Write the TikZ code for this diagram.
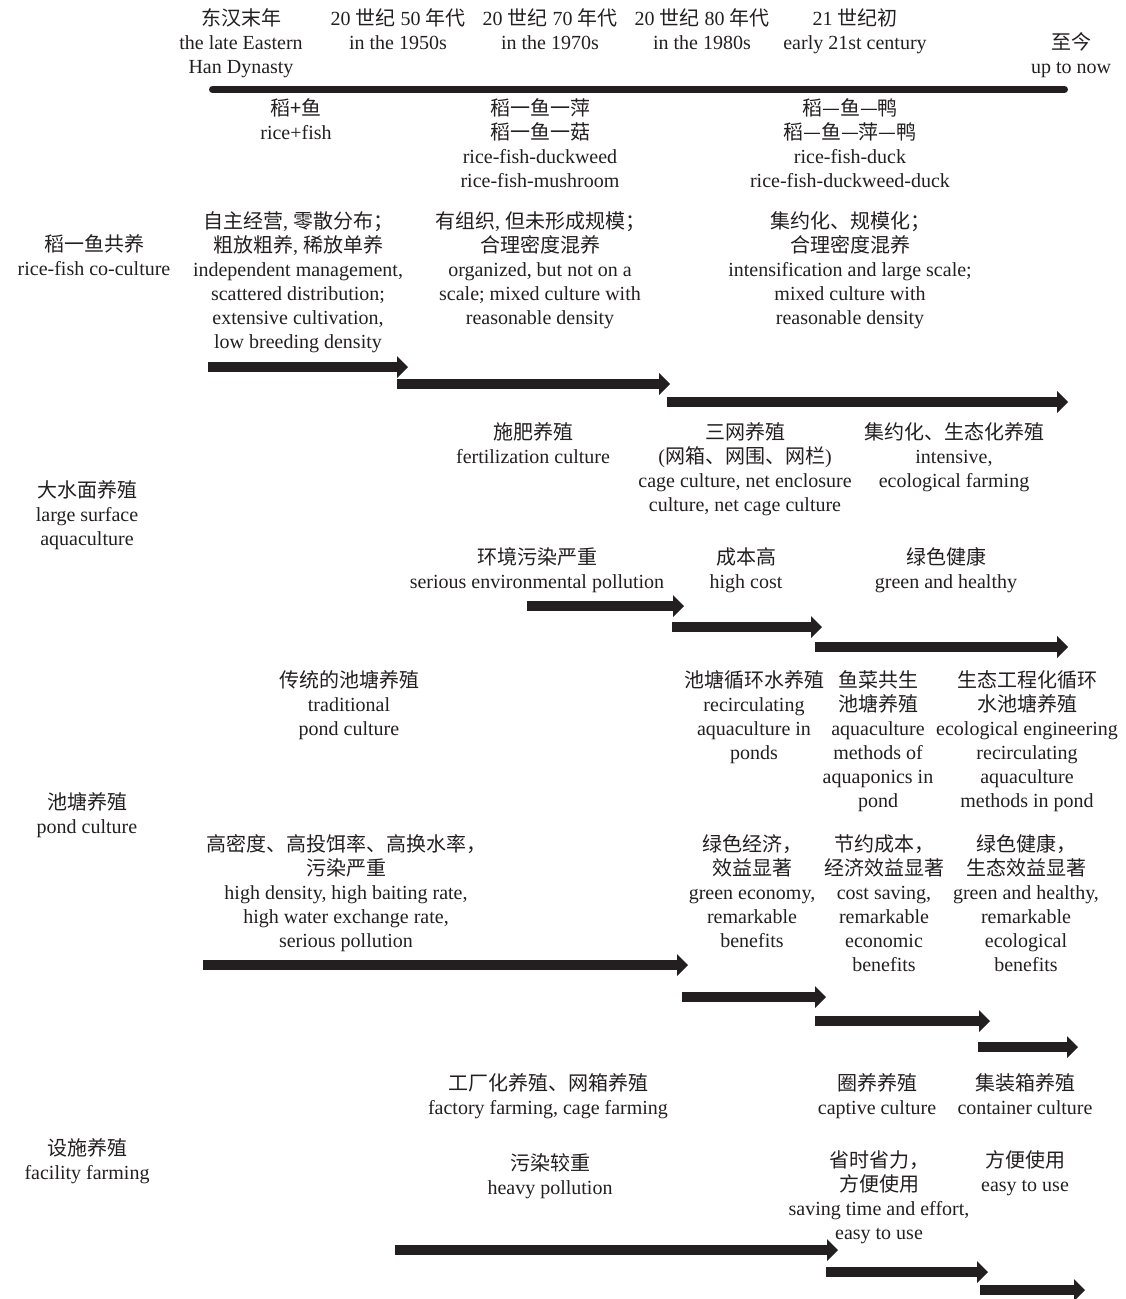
\documentclass[tikz,border=0pt]{standalone}
\usepackage{fontspec}
\setmainfont{Liberation Serif}
\newfontfamily\cjk{Noto Sans CJK SC}
\newcommand{\zh}[1]{{\cjk #1}}
\usetikzlibrary{arrows.meta}
\definecolor{ink}{RGB}{35,31,32}
\begin{document}
\begin{tikzpicture}[x=1pt,y=-1pt,
  lbl/.style={inner sep=0pt, align=center, font=\fontsize{20}{24}\selectfont, anchor=base, text=ink},
  barrow/.style={draw=ink, line width=10pt, -{Triangle[length=11pt,width=22pt,line width=0pt]}},
  timeline/.style={draw=ink, line width=7pt, line cap=round}]
\useasboundingbox (0,0) rectangle (1126,1299);

% header (anchor = baseline of last line)
\node[lbl] (h1) at (241,73) {\zh{东汉末年}\\the late Eastern\\Han Dynasty};
\node[lbl] (h2) at (398,49) {20 \zh{世纪} 50 \zh{年代}\\in the 1950s};
\node[lbl] (h3) at (550,49) {20 \zh{世纪} 70 \zh{年代}\\in the 1970s};
\node[lbl] (h4) at (702,49) {20 \zh{世纪} 80 \zh{年代}\\in the 1980s};
\node[lbl] (h5) at (855,49) {21 \zh{世纪初}\\early 21st century};
\node[lbl] (h6) at (1071,73) {\zh{至今}\\up to now};

\coordinate (tls) at (212.5,89.5);
\coordinate (tle) at (1064.5,89.5);
\draw[timeline] (tls) -- (tle);

\node[lbl] (t1) at (296,139) {\zh{稻+鱼}\\rice+fish};
\node[lbl] (t2) at (540,187) {\zh{稻一鱼一萍}\\\zh{稻一鱼一菇}\\rice-fish-duckweed\\rice-fish-mushroom};
\node[lbl] (t3) at (850,187) {\zh{稻—鱼—鸭}\\\zh{稻—鱼—萍—鸭}\\rice-fish-duck\\rice-fish-duckweed-duck};

% left labels
\node[lbl] (L1) at (94,275) {\zh{稻一鱼共养}\\rice-fish co-culture};
\node[lbl] (L2) at (87,545) {\zh{大水面养殖}\\large surface\\aquaculture};
\node[lbl] (L3) at (87,833) {\zh{池塘养殖}\\pond culture};
\node[lbl] (L4) at (87,1179) {\zh{设施养殖}\\facility farming};

% row 1
\node[lbl] (r1a) at (298,348) {\zh{自主经营}, \zh{零散分布；}\\\zh{粗放粗养}, \zh{稀放单养}\\independent management,\\scattered distribution;\\extensive cultivation,\\low breeding density};
\node[lbl] (r1b) at (540,324) {\zh{有组织}, \zh{但未形成规模；}\\\zh{合理密度混养}\\organized, but not on a\\scale; mixed culture with\\reasonable density};
\node[lbl] (r1c) at (850,324) {\zh{集约化、规模化；}\\\zh{合理密度混养}\\intensification and large scale;\\mixed culture with\\reasonable density};

\coordinate (a1s) at (208,367);  \coordinate (a1e) at (408,367);
\coordinate (a2s) at (397,384);  \coordinate (a2e) at (670,384);
\coordinate (a3s) at (667,402);  \coordinate (a3e) at (1068,402);
\draw[barrow] (a1s) -- (a1e);
\draw[barrow] (a2s) -- (a2e);
\draw[barrow] (a3s) -- (a3e);

% row 2
\node[lbl] (r2a) at (533,463) {\zh{施肥养殖}\\fertilization culture};
\node[lbl] (r2b) at (745,511) {\zh{三网养殖}\\(\zh{网箱、网围、网栏})\\cage culture, net enclosure\\culture, net cage culture};
\node[lbl] (r2c) at (954,487) {\zh{集约化、生态化养殖}\\intensive,\\ecological farming};
\node[lbl] (r2d) at (537,588) {\zh{环境污染严重}\\serious environmental pollution};
\node[lbl] (r2e) at (746,588) {\zh{成本高}\\high cost};
\node[lbl] (r2f) at (946,588) {\zh{绿色健康}\\green and healthy};

\coordinate (b1s) at (527,606);  \coordinate (b1e) at (684,606);
\coordinate (b2s) at (672,627);  \coordinate (b2e) at (822,627);
\coordinate (b3s) at (815,647);  \coordinate (b3e) at (1068,647);
\draw[barrow] (b1s) -- (b1e);
\draw[barrow] (b2s) -- (b2e);
\draw[barrow] (b3s) -- (b3e);

% row 3
\node[lbl] (r3a) at (349,735) {\zh{传统的池塘养殖}\\traditional\\pond culture};
\node[lbl] (r3b) at (754,759) {\zh{池塘循环水养殖}\\recirculating\\aquaculture in\\ponds};
\node[lbl] (r3c) at (878,807) {\zh{鱼菜共生}\\\zh{池塘养殖}\\aquaculture\\methods of\\aquaponics in\\pond};
\node[lbl] (r3d) at (1027,807) {\zh{生态工程化循环}\\\zh{水池塘养殖}\\ecological engineering\\recirculating\\aquaculture\\methods in pond};
\node[lbl] (r3e) at (346,947) {\zh{高密度、高投饵率、高换水率，}\\\zh{污染严重}\\high density, high baiting rate,\\high water exchange rate,\\serious pollution};
\node[lbl] (r3f) at (752,947) {\zh{绿色经济，}\\\zh{效益显著}\\green economy,\\remarkable\\benefits};
\node[lbl] (r3g) at (884,971) {\zh{节约成本，}\\\zh{经济效益显著}\\cost saving,\\remarkable\\economic\\benefits};
\node[lbl] (r3h) at (1026,971) {\zh{绿色健康，}\\\zh{生态效益显著}\\green and healthy,\\remarkable\\ecological\\benefits};

\coordinate (c1s) at (203,965);  \coordinate (c1e) at (688,965);
\coordinate (c2s) at (682,997);  \coordinate (c2e) at (826,997);
\coordinate (c3s) at (815,1021); \coordinate (c3e) at (990,1021);
\coordinate (c4s) at (978,1047); \coordinate (c4e) at (1078,1047);
\draw[barrow] (c1s) -- (c1e);
\draw[barrow] (c2s) -- (c2e);
\draw[barrow] (c3s) -- (c3e);
\draw[barrow] (c4s) -- (c4e);

% row 4
\node[lbl] (r4a) at (548,1114) {\zh{工厂化养殖、网箱养殖}\\factory farming, cage farming};
\node[lbl] (r4b) at (877,1114) {\zh{圈养养殖}\\captive culture};
\node[lbl] (r4c) at (1025,1114) {\zh{集装箱养殖}\\container culture};
\node[lbl] (r4d) at (550,1194) {\zh{污染较重}\\heavy pollution};
\node[lbl] (r4e) at (879,1239) {\zh{省时省力，}\\\zh{方便使用}\\saving time and effort,\\easy to use};
\node[lbl] (r4f) at (1025,1191) {\zh{方便使用}\\easy to use};

\coordinate (d1s) at (395,1250); \coordinate (d1e) at (838,1250);
\coordinate (d2s) at (826,1272); \coordinate (d2e) at (988,1272);
\coordinate (d3s) at (980,1290); \coordinate (d3e) at (1085,1290);
\draw[barrow] (d1s) -- (d1e);
\draw[barrow] (d2s) -- (d2e);
\draw[barrow] (d3s) -- (d3e);
\end{tikzpicture}
\end{document}
